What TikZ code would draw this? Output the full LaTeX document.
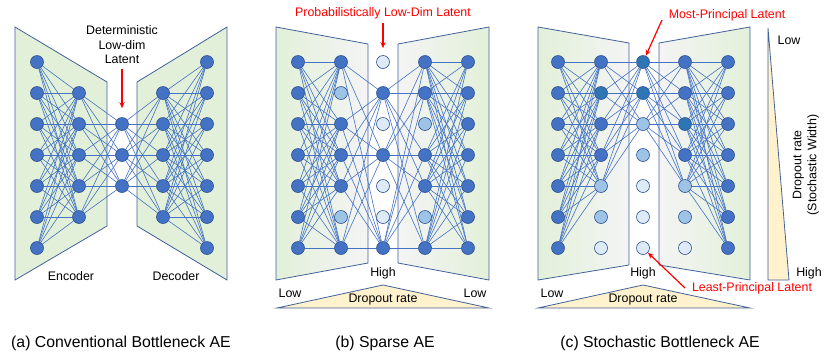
\documentclass[tikz,border=0pt]{standalone}
\usepackage{fontspec}
\setmainfont{Liberation Sans}
\usetikzlibrary{arrows.meta}
\definecolor{AEblue}{HTML}{4472C4}
\definecolor{AEedge}{HTML}{2F528F}
\definecolor{AEteal}{HTML}{2E75B6}
\definecolor{AEmid}{HTML}{9DC3E6}
\definecolor{AElight}{HTML}{DEEBF7}
\definecolor{AEgreen}{HTML}{E2F0D9}
\definecolor{AEgray}{HTML}{F4F4F4}
\definecolor{AEframe}{HTML}{41619A}
\definecolor{AEyellow}{HTML}{FFF2CC}
\definecolor{AEred}{HTML}{FF0000}
\pgfdeclarelayer{bg}
\pgfdeclarelayer{edges}
\pgfsetlayers{bg,edges,main}
\begin{document}
\begin{tikzpicture}[x=1pt, y=-1pt,
   neuron/.style={circle, draw=AEedge, line width=0.6pt, minimum size=13pt, inner sep=0pt, fill=AEblue},
   kind d/.style={fill=AEblue},
   kind t/.style={fill=AEteal},
   kind m/.style={fill=AEmid},
   kind l/.style={fill=AElight},
   weight/.style={AEblue, line width=0.6pt},
   block/.style={draw=AEframe, line width=0.8pt},
   lbl/.style={font=\fontsize{12.4}{14.5}\selectfont, inner sep=0pt},
   capt/.style={font=\fontsize{15.8}{18}\selectfont, inner sep=0pt},
   pointer/.style={AEred, line width=1.2pt, -{Stealth[length=6pt, width=5pt]}}]
   \useasboundingbox (0,0) rectangle (830,360);
   % Trapezoids and dropout wedges
   \begin{pgfonlayer}{bg}
      \filldraw[block, fill=AEgreen] (15,27) -- (107,82) -- (107,226) -- (15,280) -- cycle;
      \filldraw[block, fill=AEgreen] (137,82) -- (227,27) -- (227,280) -- (137,226) -- cycle;
      \shadedraw[block, left color=AEgreen, right color=AEgray] (276,27) -- (368,44) -- (368,263) -- (276,280) -- cycle;
      \shadedraw[block, left color=AEgray, right color=AEgreen] (398,44) -- (489,27) -- (489,280) -- (398,263) -- cycle;
      \shadedraw[block, left color=AEgreen, right color=AEgray] (538,27) -- (629,43) -- (629,265) -- (538,280) -- cycle;
      \shadedraw[block, left color=AEgray, right color=AEgreen] (659,43) -- (750,27) -- (750,280) -- (659,265) -- cycle;
      \filldraw[block, fill=AEyellow] (277,308) -- (383,285) -- (489,308) -- cycle;
      \filldraw[block, fill=AEyellow] (538,308) -- (643,285) -- (750,308) -- cycle;
      \filldraw[block, fill=AEyellow] (768,28) -- (789,280) -- (768,280) -- cycle;
   \end{pgfonlayer}
   % (a) Conventional bottleneck
   \foreach \r in {1,...,7} \node[neuron] (a1-\r) at (37,31+31*\r) {};
   \foreach \r in {2,...,6} \node[neuron] (a2-\r) at (79,31+31*\r) {};
   \foreach \r in {3,4,5} \node[neuron] (a3-\r) at (122,31+31*\r) {};
   \foreach \r in {2,...,6} \node[neuron] (a4-\r) at (163,31+31*\r) {};
   \foreach \r in {1,...,7} \node[neuron] (a5-\r) at (207,31+31*\r) {};
   \begin{pgfonlayer}{edges}
      \foreach \i in {1,...,7} \foreach \j in {2,...,6} \draw[weight] (a1-\i) -- (a2-\j);
      \foreach \i in {2,...,6} \foreach \j in {3,4,5} \draw[weight] (a2-\i) -- (a3-\j);
      \foreach \i in {3,4,5} \foreach \j in {2,...,6} \draw[weight] (a3-\i) -- (a4-\j);
      \foreach \i in {2,...,6} \foreach \j in {1,...,7} \draw[weight] (a4-\i) -- (a5-\j);
   \end{pgfonlayer}
   \node[lbl, align=center] (detlatent) at (122,45) {Deterministic\\Low-dim\\Latent};
   \draw[pointer] ([yshift=-5pt]detlatent.south) -- ([yshift=9pt]a3-3.north);
   \node[lbl] (encoder) at (71,276) {Encoder};
   \node[lbl] (decoder) at (176,276) {Decoder};
   \node[capt] (capa) at (121,343) {(a) Conventional Bottleneck AE};
   % (b) Sparse AE
   \foreach \l/\x/\ks in {1/298/{d,d,d,d,d,d,d}, 2/341/{d,m,d,d,d,m,d}, 3/383/{l,d,l,d,l,l,d},
                          4/425/{d,d,m,d,d,m,d}, 5/468/{d,d,d,d,d,d,d}}
      \foreach \k [count=\r] in \ks
         \node[neuron, kind \k] (b\l-\r) at (\x,31+31*\r) {};
   \begin{pgfonlayer}{edges}
      \foreach \i in {1,...,7} \foreach \j in {1,3,4,5,7} \draw[weight] (b1-\i) -- (b2-\j);
      \foreach \i in {1,3,4,5,7} \foreach \j in {2,4,7} \draw[weight] (b2-\i) -- (b3-\j);
      \foreach \i in {2,4,7} \foreach \j in {1,2,4,5,7} \draw[weight] (b3-\i) -- (b4-\j);
      \foreach \i in {1,2,4,5,7} \foreach \j in {1,...,7} \draw[weight] (b4-\i) -- (b5-\j);
   \end{pgfonlayer}
   \node[lbl, text=AEred] (problatent) at (383,13) {Probabilistically Low-Dim Latent};
   \draw[pointer] ([yshift=-4pt]problatent.south) -- ([yshift=7pt]b3-1.north);
   \node[lbl] (highb) at (383,273) {High};
   \node[lbl] (lowbl) at (290,293) {Low};
   \node[lbl] (lowbr) at (475,293) {Low};
   \node[lbl] (dropb) at (383,300) {Dropout rate};
   \node[capt] (capb) at (385,343) {(b) Sparse AE};
   % (c) Stochastic bottleneck
   \foreach \l/\x/\ks in {1/558/{d,d,d,d,d,d,d}, 2/601/{d,t,d,d,m,m,l}, 3/643/{t,t,m,m,l,l,l},
                          4/685/{d,d,t,d,m,m,l}, 5/728/{d,d,d,d,d,d,d}}
      \foreach \k [count=\r] in \ks
         \node[neuron, kind \k] (c\l-\r) at (\x,31+31*\r) {};
   \begin{pgfonlayer}{edges}
      \foreach \i in {1,...,7} \foreach \j in {1,...,5} \draw[weight] (c1-\i) -- (c2-\j);
      \foreach \i in {1,...,5} \foreach \j in {1,2,3} \draw[weight] (c2-\i) -- (c3-\j);
      \foreach \i in {1,2,3} \foreach \j in {1,...,5} \draw[weight] (c3-\i) -- (c4-\j);
      \foreach \i in {1,...,5} \foreach \j in {1,...,7} \draw[weight] (c4-\i) -- (c5-\j);
   \end{pgfonlayer}
   \node[lbl, text=AEred] (mostlatent) at (727,15) {Most-Principal Latent};
   \coordinate (mostfrom) at (662,20);
   \draw[pointer] (mostfrom) -- (c3-1);
   \node[lbl, text=AEred] (leastlatent) at (752,288) {Least-Principal Latent};
   \coordinate (leastfrom) at (685,288);
   \draw[pointer] (leastfrom) -- (c3-7);
   \node[lbl] (highc) at (643,273) {High};
   \node[lbl] (lowc) at (552,293) {Low};
   \node[lbl] (dropc) at (643,300) {Dropout rate};
   \node[lbl] (lowv) at (789,40) {Low};
   \node[lbl] (highv) at (809,273) {High};
   \node[lbl, rotate=90, align=center, font=\fontsize{12.4}{15}\selectfont] (dropv) at (806,165) {Dropout rate\\(Stochastic Width)};
   \node[capt] (capc) at (660,343) {(c) Stochastic Bottleneck AE};
\end{tikzpicture}
\end{document}
